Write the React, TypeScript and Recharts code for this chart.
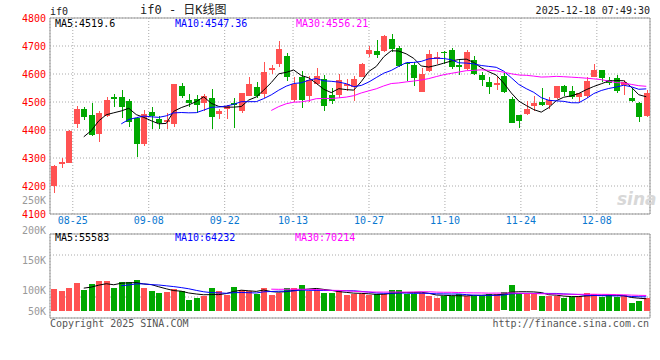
import { ComposedChart, Bar, Line, XAxis, YAxis, CartesianGrid, ReferenceArea } from 'recharts';

// trading days shown on the chart (MM-DD)
const dates = [
  '08-20', '08-21', '08-22', '08-25', '08-26', '08-27', '08-28', '08-29',
  '09-01', '09-02', '09-03', '09-04', '09-05', '09-08', '09-09', '09-10', '09-11', '09-12',
  '09-15', '09-16', '09-17', '09-18', '09-19', '09-22', '09-23', '09-24', '09-25', '09-26', '09-29', '09-30',
  '10-09', '10-10', '10-13', '10-14', '10-15', '10-16', '10-17', '10-20', '10-21', '10-22', '10-23', '10-24',
  '10-27', '10-28', '10-29', '10-30', '10-31',
  '11-03', '11-04', '11-05', '11-06', '11-07', '11-10', '11-11', '11-12', '11-13', '11-14',
  '11-17', '11-18', '11-19', '11-20', '11-21', '11-24', '11-25', '11-26', '11-27', '11-28',
  '12-01', '12-02', '12-03', '12-04', '12-05', '12-08', '12-09', '12-10', '12-11', '12-12',
  '12-15', '12-16', '12-17',
];

const open = [
  4201.2, 4279.8, 4283.3, 4422.6, 4475.0, 4453.6, 4384.5, 4451.2, 4517.9, 4517.9,
  4503.6, 4441.7, 4350.0, 4464.3, 4439.3, 4429.8, 4421.4, 4557.1, 4507.1, 4509.5,
  4495.2, 4514.3, 4456.0, 4475.0, 4495.2, 4467.9, 4522.6, 4553.6, 4529.8, 4614.3,
  4636.9, 4664.3, 4507.1, 4590.5, 4522.6, 4561.9, 4581.0, 4525.0, 4526.2, 4557.1,
  4552.4, 4590.5, 4671.4, 4682.1, 4682.1, 4725.0, 4692.9, 4640.5, 4633.3, 4535.7,
  4610.7, 4653.6, 4677.4, 4685.7, 4633.3, 4617.9, 4650.0, 4596.4, 4571.4, 4559.5,
  4592.9, 4510.7, 4453.6, 4458.3, 4483.3, 4501.2, 4490.5, 4513.1, 4557.1, 4539.3,
  4519.0, 4522.6, 4590.5, 4614.3, 4578.6, 4584.5, 4560.7, 4513.1, 4497.6, 4450.0,
];
const high = [
  4275.0, 4300.0, 4400.0, 4485.7, 4481.0, 4497.6, 4467.9, 4519.0, 4529.8, 4542.9,
  4510.7, 4443.0, 4471.4, 4481.0, 4448.8, 4461.9, 4566.0, 4569.0, 4528.6, 4523.8,
  4528.6, 4545.2, 4475.0, 4489.3, 4514.3, 4533.0, 4589.3, 4571.4, 4642.9, 4632.1,
  4717.9, 4675.0, 4589.3, 4609.5, 4594.0, 4621.4, 4597.6, 4550.0, 4601.2, 4582.1,
  4594.0, 4638.1, 4700.0, 4721.4, 4739.3, 4742.9, 4700.0, 4642.9, 4642.9, 4621.4,
  4685.7, 4678.6, 4682.0, 4692.9, 4648.8, 4685.7, 4664.3, 4607.1, 4589.3, 4589.3,
  4604.8, 4519.0, 4455.0, 4503.6, 4521.4, 4548.8, 4516.7, 4558.0, 4560.7, 4557.1,
  4533.0, 4589.3, 4636.9, 4616.0, 4590.5, 4596.4, 4578.6, 4548.8, 4499.0, 4542.9,
];
const low = [
  4176.2, 4263.1, 4281.0, 4408.3, 4435.7, 4380.0, 4357.1, 4447.6, 4481.0, 4444.0,
  4409.5, 4304.8, 4342.9, 4402.4, 4402.4, 4404.8, 4411.9, 4515.5, 4483.3, 4461.9,
  4467.9, 4404.8, 4440.5, 4440.5, 4408.3, 4461.9, 4521.0, 4513.0, 4515.5, 4601.2,
  4626.2, 4576.2, 4498.8, 4479.8, 4501.2, 4559.5, 4469.0, 4491.7, 4515.5, 4538.1,
  4504.8, 4589.0, 4661.9, 4658.3, 4679.8, 4679.8, 4626.2, 4576.2, 4558.3, 4534.0,
  4608.3, 4634.5, 4634.5, 4619.0, 4595.2, 4614.3, 4597.6, 4557.1, 4529.8, 4542.9,
  4531.0, 4423.8, 4408.3, 4454.8, 4467.9, 4485.7, 4476.2, 4510.7, 4522.6, 4511.9,
  4501.2, 4513.1, 4589.0, 4572.6, 4561.9, 4533.3, 4525.0, 4500.0, 4429.8, 4445.2,
];
const close = [
  4272.6, 4285.7, 4397.6, 4475.0, 4447.6, 4382.1, 4460.7, 4507.1, 4509.5, 4481.0,
  4429.8, 4347.6, 4457.1, 4450.0, 4426.2, 4436.9, 4564.3, 4522.6, 4497.6, 4486.9,
  4521.4, 4447.6, 4467.9, 4484.5, 4486.9, 4532.1, 4564.3, 4522.6, 4607.1, 4620.2,
  4689.3, 4590.5, 4564.3, 4508.3, 4579.8, 4591.7, 4483.3, 4504.8, 4578.6, 4563.1,
  4582.1, 4635.7, 4685.7, 4667.9, 4735.7, 4690.5, 4629.8, 4635.7, 4586.9, 4600.0,
  4671.4, 4660.7, 4673.8, 4626.2, 4626.2, 4678.6, 4601.2, 4578.6, 4554.8, 4567.9,
  4534.5, 4426.2, 4433.3, 4475.0, 4495.2, 4489.3, 4507.1, 4557.1, 4536.9, 4519.0,
  4532.1, 4575.0, 4614.3, 4584.5, 4569.0, 4539.3, 4572.6, 4501.2, 4447.6, 4533.3,
];
const volume = [
  100000, 91000, 104000, 127000, 97000, 123000, 136000, 136000, 104000, 132000,
  132000, 141000, 104000, 91000, 82000, 86000, 100000, 91000, 50000, 59000,
  68000, 104000, 91000, 73000, 109000, 95000, 91000, 77000, 104000, 73000,
  82000, 104000, 104000, 118000, 91000, 95000, 82000, 82000, 91000, 73000,
  77000, 77000, 73000, 77000, 77000, 95000, 95000, 77000, 77000, 82000,
  70000, 57000, 70000, 70000, 79000, 66000, 70000, 70000, 79000, 79000,
  84000, 116000, 79000, 79000, 75000, 70000, 66000, 70000, 57000, 64000,
  70000, 82000, 78000, 62000, 72000, 62000, 73000, 38000, 45000, 60000,
];

const dateTicks = ['08-25', '09-08', '09-22', '10-13', '10-27', '11-10', '11-24', '12-08'];
const priceTicks = [4100, 4200, 4300, 4400, 4500, 4600, 4700, 4800];
const volTicks = [50000, 100000, 150000, 200000, 250000];

const priceLegend = ['MA5:4519.6', 'MA10:4547.36', 'MA30:4556.21'];
const volLegend = ['MA5:55583', 'MA10:64232', 'MA30:70214'];

const UP = '#ff5252';
const DOWN = '#00a800';
const MA_COLORS = ['#000000', '#0000ff', '#ff00ff'];
const FONT = "'DejaVu Sans Mono', monospace";

function movingAvg(arr: number[], n: number) {
  return arr.map((_, i) => {
    if (i < n - 1) return null;
    let s = 0;
    for (let j = i - n + 1; j <= i; j++) s += arr[j];
    return s / n;
  });
}

const pMa5 = movingAvg(close, 5);
const pMa10 = movingAvg(close, 10);
const pMa30 = movingAvg(close, 30);
const vMa5 = movingAvg(volume, 5);
const vMa10 = movingAvg(volume, 10);
const vMa30 = movingAvg(volume, 30);

const data = dates.map((d, i) => ({
  idx: i,
  date: d,
  open: open[i],
  high: high[i],
  low: low[i],
  close: close[i],
  range: [low[i], high[i]],
  vol: volume[i],
  ma5: pMa5[i],
  ma10: pMa10[i],
  ma30: pMa30[i],
  vma5: vMa5[i],
  vma10: vMa10[i],
  vma30: vMa30[i],
}));

const tickIdx = dateTicks.map((t) => dates.indexOf(t));
const lastIdx = dates.length - 1;

function Candle(props: any) {
  const { x, y, width, height, payload } = props;
  if (x == null || y == null) return null;
  const color = payload.close >= payload.open ? UP : DOWN;
  const k = height / (payload.high - payload.low || 1);
  const yO = y + (payload.high - payload.open) * k;
  const yC = y + (payload.high - payload.close) * k;
  const top = Math.round(Math.min(yO, yC));
  const h = Math.max(1, Math.round(Math.abs(yC - yO)));
  const rx = Math.round(x);
  const cx = rx + Math.floor(width / 2) + 0.5;
  return (
    <g>
      <line x1={cx} x2={cx} y1={Math.round(y)} y2={Math.round(y + height)} stroke={color} strokeWidth={1} />
      <rect x={rx} y={top} width={width} height={h} fill={color} />
    </g>
  );
}

function VolBar(props: any) {
  const { x, y, width, height, payload } = props;
  if (x == null || y == null) return null;
  const color = payload.close >= payload.open ? UP : DOWN;
  return <rect x={Math.round(x)} y={Math.round(y)} width={width} height={Math.round(height)} fill={color} />;
}

// volume panel: svg starts at page y=190, plot area 234..318
const VOL_H = 140;
const VOL_MARGIN = { top: 44, right: 10, bottom: 12, left: 0 };
const AXIS_W = 50;

function VolTick(props: any) {
  const { y, payload } = props;
  const yy = Math.min(y, VOL_H - VOL_MARGIN.bottom - 7);
  return (
    <text x={AXIS_W - 4} y={yy} dy={3.5} textAnchor="end" fill="#999" fontSize={10} fontFamily={FONT}>
      {payload.value / 1000 + 'K'}
    </text>
  );
}

const txt = (extra: any) => ({
  position: 'absolute' as const,
  fontFamily: FONT,
  fontSize: 10,
  lineHeight: '12px',
  whiteSpace: 'pre' as const,
  ...extra,
});

export default function App() {
  return (
    <div style={{ position: 'absolute', left: 0, top: 0, width: 660, height: 360, background: '#fff', overflow: 'hidden' }}>
      <div style={{ position: 'absolute', left: 0, top: 0 }}>
        <ComposedChart width={660} height={232} data={data} margin={{ top: 18, right: 10, bottom: 0, left: 0 }}>
          <CartesianGrid stroke="#aaa" strokeDasharray="1 2" xAxisId={0} yAxisId={0} />
          <XAxis
            xAxisId={0}
            dataKey="idx"
            type="number"
            domain={[0, lastIdx]}
            allowDataOverflow
            ticks={tickIdx}
            interval={0}
            tickFormatter={(v: number) => dates[v]}
            tickLine={false}
            axisLine={false}
            tickSize={0}
            tickMargin={3}
            height={18}
            tick={{ fill: '#0a78d0', fontSize: 10, fontFamily: FONT }}
          />
          <XAxis xAxisId="cat" dataKey="date" hide />
          <YAxis
            yAxisId={0}
            domain={[4100, 4800]}
            allowDataOverflow
            ticks={priceTicks}
            interval={0}
            width={AXIS_W}
            tickLine={false}
            axisLine={false}
            tickSize={0}
            tickMargin={4}
            tick={{ fill: '#ff0000', fontSize: 10, fontFamily: FONT }}
          />
          <ReferenceArea xAxisId={0} yAxisId={0} x1={0} x2={lastIdx} y1={4100} y2={4800} fill="none" stroke="#999" ifOverflow="visible" />
          <Bar xAxisId="cat" yAxisId={0} dataKey="range" barSize={6} shape={<Candle />} isAnimationActive={false} />
          <Line xAxisId="cat" yAxisId={0} dataKey="ma5" stroke={MA_COLORS[0]} dot={false} strokeWidth={1} isAnimationActive={false} />
          <Line xAxisId="cat" yAxisId={0} dataKey="ma10" stroke={MA_COLORS[1]} dot={false} strokeWidth={1} isAnimationActive={false} />
          <Line xAxisId="cat" yAxisId={0} dataKey="ma30" stroke={MA_COLORS[2]} dot={false} strokeWidth={1} isAnimationActive={false} />
        </ComposedChart>
      </div>

      <div style={{ position: 'absolute', left: 0, top: 190 }}>
        <ComposedChart width={660} height={VOL_H} data={data} margin={VOL_MARGIN}>
          <CartesianGrid stroke="#aaa" strokeDasharray="1 2" xAxisId={0} yAxisId="grid" />
          <XAxis
            xAxisId={0}
            dataKey="idx"
            type="number"
            domain={[0, lastIdx]}
            allowDataOverflow
            ticks={tickIdx}
            interval={0}
            tick={false}
            tickLine={false}
            axisLine={false}
            height={0}
          />
          <XAxis xAxisId="cat" dataKey="date" hide />
          <YAxis
            yAxisId="lab"
            domain={[53000, 194000]}
            allowDataOverflow
            ticks={volTicks}
            interval={0}
            width={AXIS_W}
            tickLine={false}
            axisLine={false}
            tickSize={0}
            tickMargin={4}
            tick={<VolTick />}
          />
          <YAxis yAxisId="grid" domain={[0, 4]} ticks={[1, 2, 3]} allowDataOverflow hide width={0} />
          <YAxis yAxisId="vol" domain={[-32000, 350000]} allowDataOverflow hide width={0} />
          <ReferenceArea xAxisId={0} yAxisId="grid" x1={0} x2={lastIdx} y1={0} y2={4} fill="none" stroke="#999" ifOverflow="visible" />
          <Bar xAxisId="cat" yAxisId="vol" dataKey="vol" barSize={6} shape={<VolBar />} isAnimationActive={false} />
          <Line xAxisId="cat" yAxisId="vol" dataKey="vma5" stroke={MA_COLORS[0]} dot={false} strokeWidth={1} isAnimationActive={false} />
          <Line xAxisId="cat" yAxisId="vol" dataKey="vma10" stroke={MA_COLORS[1]} dot={false} strokeWidth={1} isAnimationActive={false} />
          <Line xAxisId="cat" yAxisId="vol" dataKey="vma30" stroke={MA_COLORS[2]} dot={false} strokeWidth={1} isAnimationActive={false} />
        </ComposedChart>
      </div>

      <div style={txt({ left: 50, top: 6, color: '#222' })}>if0</div>
      <div style={txt({ left: 140, top: 3, fontSize: 12, lineHeight: '14px', color: '#222', fontFamily: "'DejaVu Sans Mono', 'Noto Sans CJK SC', monospace" })}>
        if0 - 日K线图
      </div>
      <div style={txt({ right: 10, top: 5, color: '#222' })}>2025-12-18 07:49:30</div>

      {priceLegend.map((t, i) => (
        <div key={t} style={txt({ left: [55, 175, 296][i], top: 18, color: MA_COLORS[i] })}>{t}</div>
      ))}
      {volLegend.map((t, i) => (
        <div key={t} style={txt({ left: [55, 175, 295][i], top: 232, color: MA_COLORS[i] })}>{t}</div>
      ))}

      <div style={txt({ left: 617, top: 189, fontSize: 17, lineHeight: '20px', fontFamily: 'Verdana, "DejaVu Sans", sans-serif', fontStyle: 'italic', fontWeight: 'bold', color: '#d8d8d8' })}>sina</div>

      <div style={txt({ left: 50, top: 318, color: '#555' })}>Copyright 2025 SINA.COM</div>
      <div style={txt({ right: 11, top: 318, color: '#555' })}>http://finance.sina.com.cn</div>
    </div>
  );
}
